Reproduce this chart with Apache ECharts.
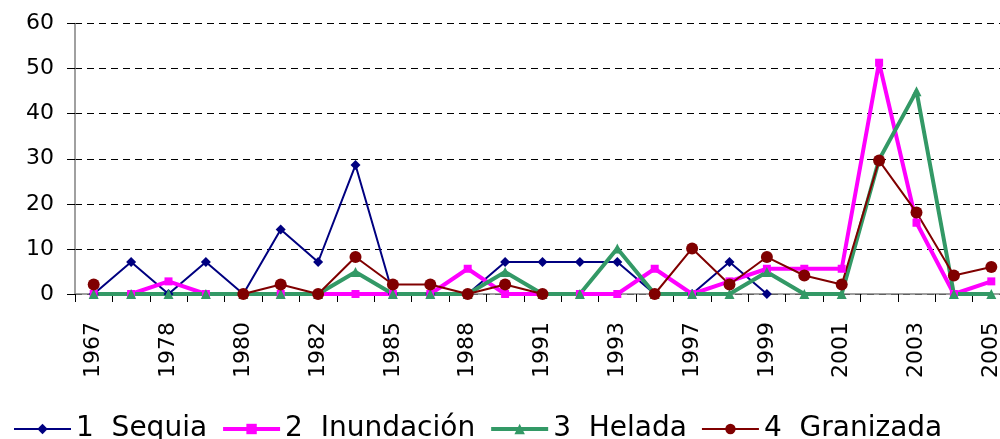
<!DOCTYPE html>
<html>
<head>
<meta charset="utf-8">
<script src="https://cdn.jsdelivr.net/npm/echarts@6/dist/echarts.min.js"></script>
<style>
html,body{margin:0;padding:0;background:#fff;}
#chart{width:1000px;height:439px;}
</style>
</head>
<body>
<div id="chart"></div>
<script>
var years = ['1967','1977','1978','1979','1980','1981','1982','1984','1985','1987','1988','1990','1991','1992','1993','1995','1997','1998','1999','2000','2001','2002','2003','2004','2005'];
var seriesNames = ['1  Sequia','2  Inundación','3  Helada','4  Granizada'];
var sequia = [0,7.1,0,7.1,0,14.3,7.1,28.6,0,0,0,7.1,7.1,7.1,7.1,0,0,7.1,0,null,null,null,null,null,null];
var inundacion = [0,0,2.8,0,0,0,0,0,0,0,5.6,0,0,0,0,5.6,0,2.8,5.6,5.6,5.6,51.3,15.8,0,2.8];
var helada = [0,0,0,0,0,0,0,4.9,0,0,0,4.9,0,0,10.1,0,0,0,4.9,0,0,29.8,45,0,0];
var granizada = [2.1,null,null,null,0,2.1,0,8.2,2.1,2.1,0,2.1,0,null,null,0,10.1,2.1,8.2,4.1,2.1,29.6,18.1,4.1,6.0];
var yTicks = {min:0, max:60, interval:10};

var chart = echarts.init(document.getElementById('chart'), null, {renderer:'canvas'});
var font = 'DejaVu Sans';
var colors = ['#000080','#FF00FF','#339966','#800000'];
var widths = [2,4,4,2];
function mk(i, data, symbol, size){
  return {name:seriesNames[i], type:'line', data:data, symbol:symbol, symbolSize:size, showAllSymbol:true,
    lineStyle:{color:colors[i], width:widths[i]}, itemStyle:{color:colors[i]}, connectNulls:false, animation:false};
}
chart.setOption({
  animation:false,
  backgroundColor:'#fff',
  grid:{left:75, top:23.5, right:-10, bottom:145, containLabel:false, outerBoundsMode:'none'},
  legend:{left:8, top:410, itemWidth:57, itemHeight:13, itemGap:14,
    textStyle:{fontFamily:font, fontSize:28, color:'#000'},
    data:seriesNames.map(function(n,i){return {name:n, lineStyle:{width:widths[i], color:colors[i]}};})},
  xAxis:{type:'category', data:years, boundaryGap:true,
    axisLine:{lineStyle:{color:'#808080', width:1.5}},
    axisTick:{show:true, interval:0, length:8, lineStyle:{color:'#000', width:1}},
    axisLabel:{interval:1, rotate:90, margin:28, fontFamily:font, fontSize:22, color:'#000'},
    splitLine:{show:false}},
  yAxis:{type:'value', min:yTicks.min, max:yTicks.max, interval:yTicks.interval,
    axisLine:{show:true, lineStyle:{color:'#808080', width:1.5}},
    axisTick:{show:true, length:8, lineStyle:{color:'#000', width:1}},
    axisLabel:{margin:21, fontFamily:font, fontSize:22, color:'#000'},
    splitLine:{lineStyle:{color:'#000', width:1, type:[7,5]}}},
  series:[
    mk(0, sequia, 'diamond', 10),
    mk(1, inundacion, 'rect', 8),
    mk(2, helada, 'triangle', 10),
    mk(3, granizada, 'circle', 12)
  ]
});
</script>
</body>
</html>
